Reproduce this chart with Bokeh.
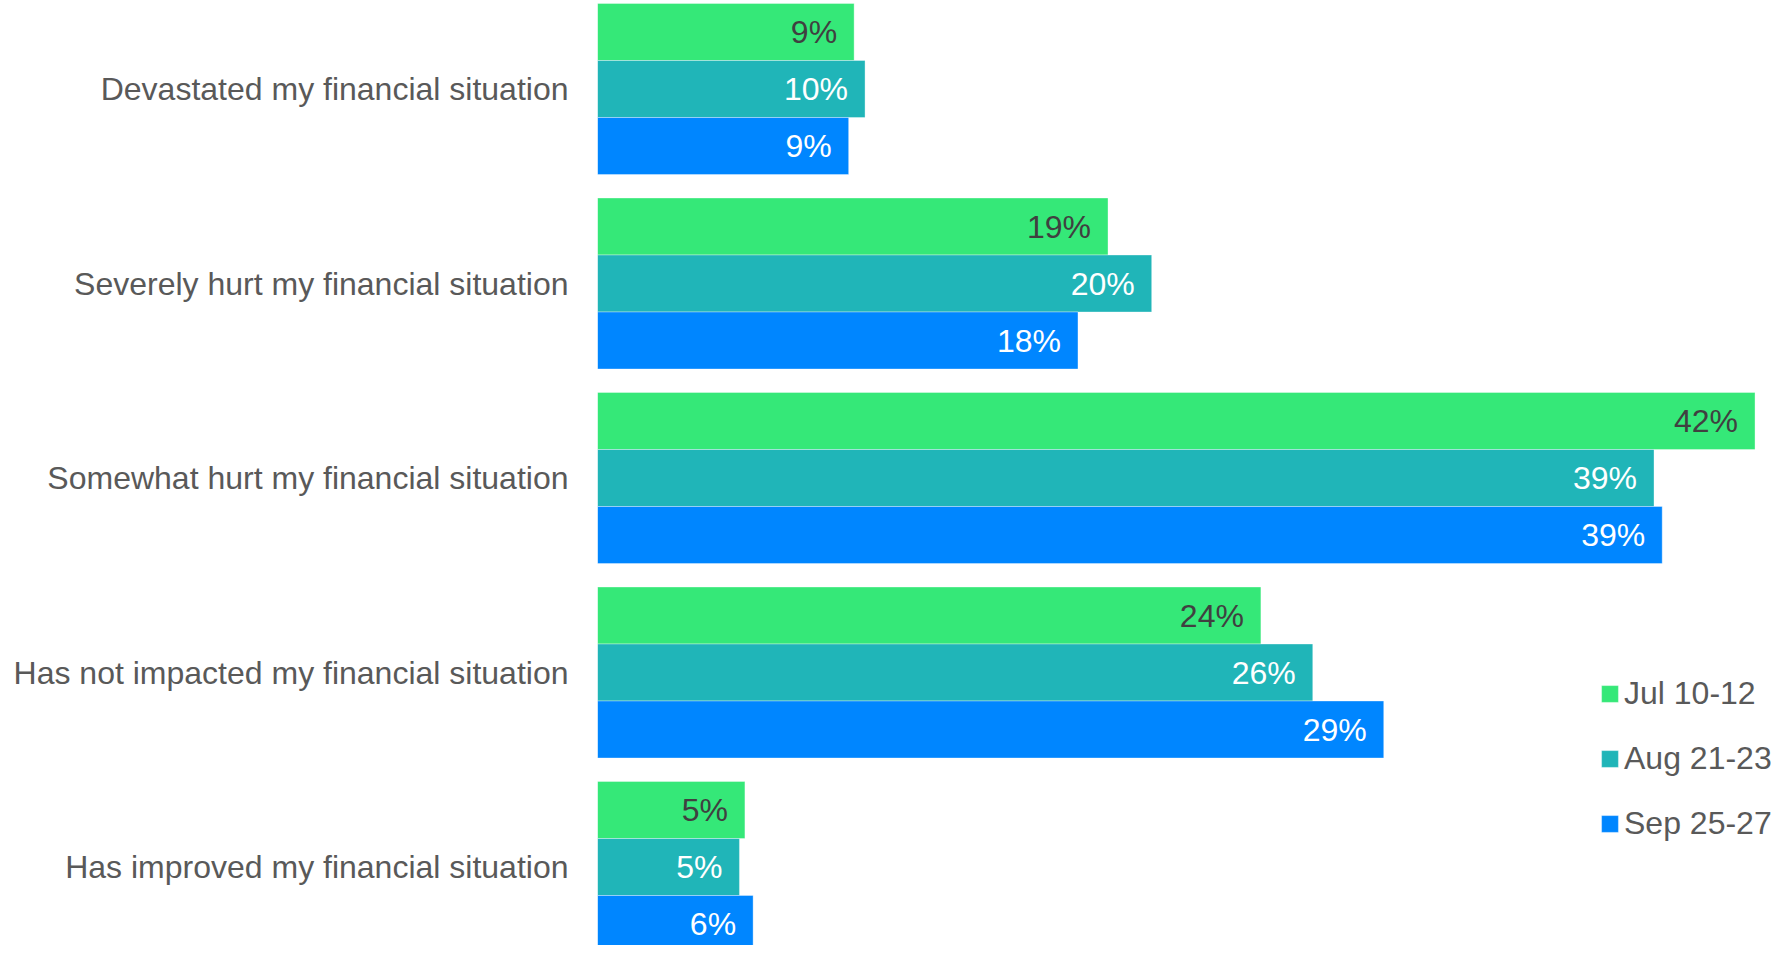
from bokeh.plotting import figure
from bokeh.models import ColumnDataSource, Range1d, FixedTicker, Legend, LegendItem, LabelSet
from bokeh.core.properties import value
from bokeh.transform import dodge
from bokeh.embed import file_html
from bokeh.resources import INLINE

categories = [
    "Devastated my financial situation",
    "Severely hurt my financial situation",
    "Somewhat hurt my financial situation",
    "Has not impacted my financial situation",
    "Has improved my financial situation",
]
series_names = ["Jul 10-12", "Aug 21-23", "Sep 25-27"]
jul_values = [9.4, 18.7, 42.4, 24.3, 5.4]
aug_values = [9.8, 20.3, 38.7, 26.2, 5.2]
sep_values = [9.2, 17.6, 39.0, 28.8, 5.7]
colors = ["#35E878", "#20B5B8", "#0086FF"]
label_colors = ["#404040", "#FFFFFF", "#FFFFFF"]

FONT = "Liberation Sans"
W, H = 1775, 945
LEFT = 597
px_per_unit = 27.3
pitch = 194.5
bar_px = 57

x_end = (W - LEFT) / px_per_unit
top = -88.5 / pitch
bottom = top + H / pitch
bh = bar_px / pitch

p = figure(width=W, height=H, output_backend="svg", toolbar_location=None,
           x_range=Range1d(0, x_end), y_range=Range1d(start=bottom, end=top),
           x_axis_location=None, min_border_left=LEFT, min_border_right=0,
           min_border_top=0, min_border_bottom=0)
p.outline_line_color = None
p.xgrid.visible = False
p.ygrid.visible = False
p.background_fill_color = "white"
p.border_fill_color = "white"

idx = list(range(len(categories)))
offsets = [-bh, 0.0, bh]
items = []
for name, vals, col, lcol, off in zip(series_names, [jul_values, aug_values, sep_values],
                                      colors, label_colors, offsets):
    src = ColumnDataSource(dict(idx=idx, v=vals, lab=[f"{round(v)}%" for v in vals]))
    r = p.hbar(y=dodge("idx", off, range=p.y_range), right="v", left=0, height=bh,
               source=src, fill_color=col, line_color="white", line_alpha=0.35, line_width=1)
    p.add_layout(LabelSet(x="v", y=dodge("idx", off, range=p.y_range), text="lab", source=src,
                          text_align="right", text_baseline="middle", x_offset=-17, y_offset=0,
                          text_font_size="32px", text_color=lcol, text_font=value(FONT)))
    items.append(LegendItem(label=name, renderers=[r]))

ax = p.yaxis[0]
ax.ticker = FixedTicker(ticks=idx)
ax.major_label_overrides = {i: c for i, c in zip(idx, categories)}
ax.major_label_text_font = FONT
ax.major_label_text_font_size = "32px"
ax.major_label_text_color = "#595959"
ax.major_label_standoff = 23
ax.major_tick_line_color = None
ax.minor_tick_line_color = None
ax.axis_line_color = None

legend = Legend(items=items, location=(1002, 103), orientation="vertical",
                glyph_width=21, glyph_height=21, label_standoff=4, spacing=28,
                padding=0, margin=0, border_line_alpha=0, background_fill_alpha=0,
                label_text_font=FONT, label_text_font_size="32px",
                label_text_color="#595959", label_height=37)
p.add_layout(legend)

open("out.html", "w").write(file_html(p, INLINE))
